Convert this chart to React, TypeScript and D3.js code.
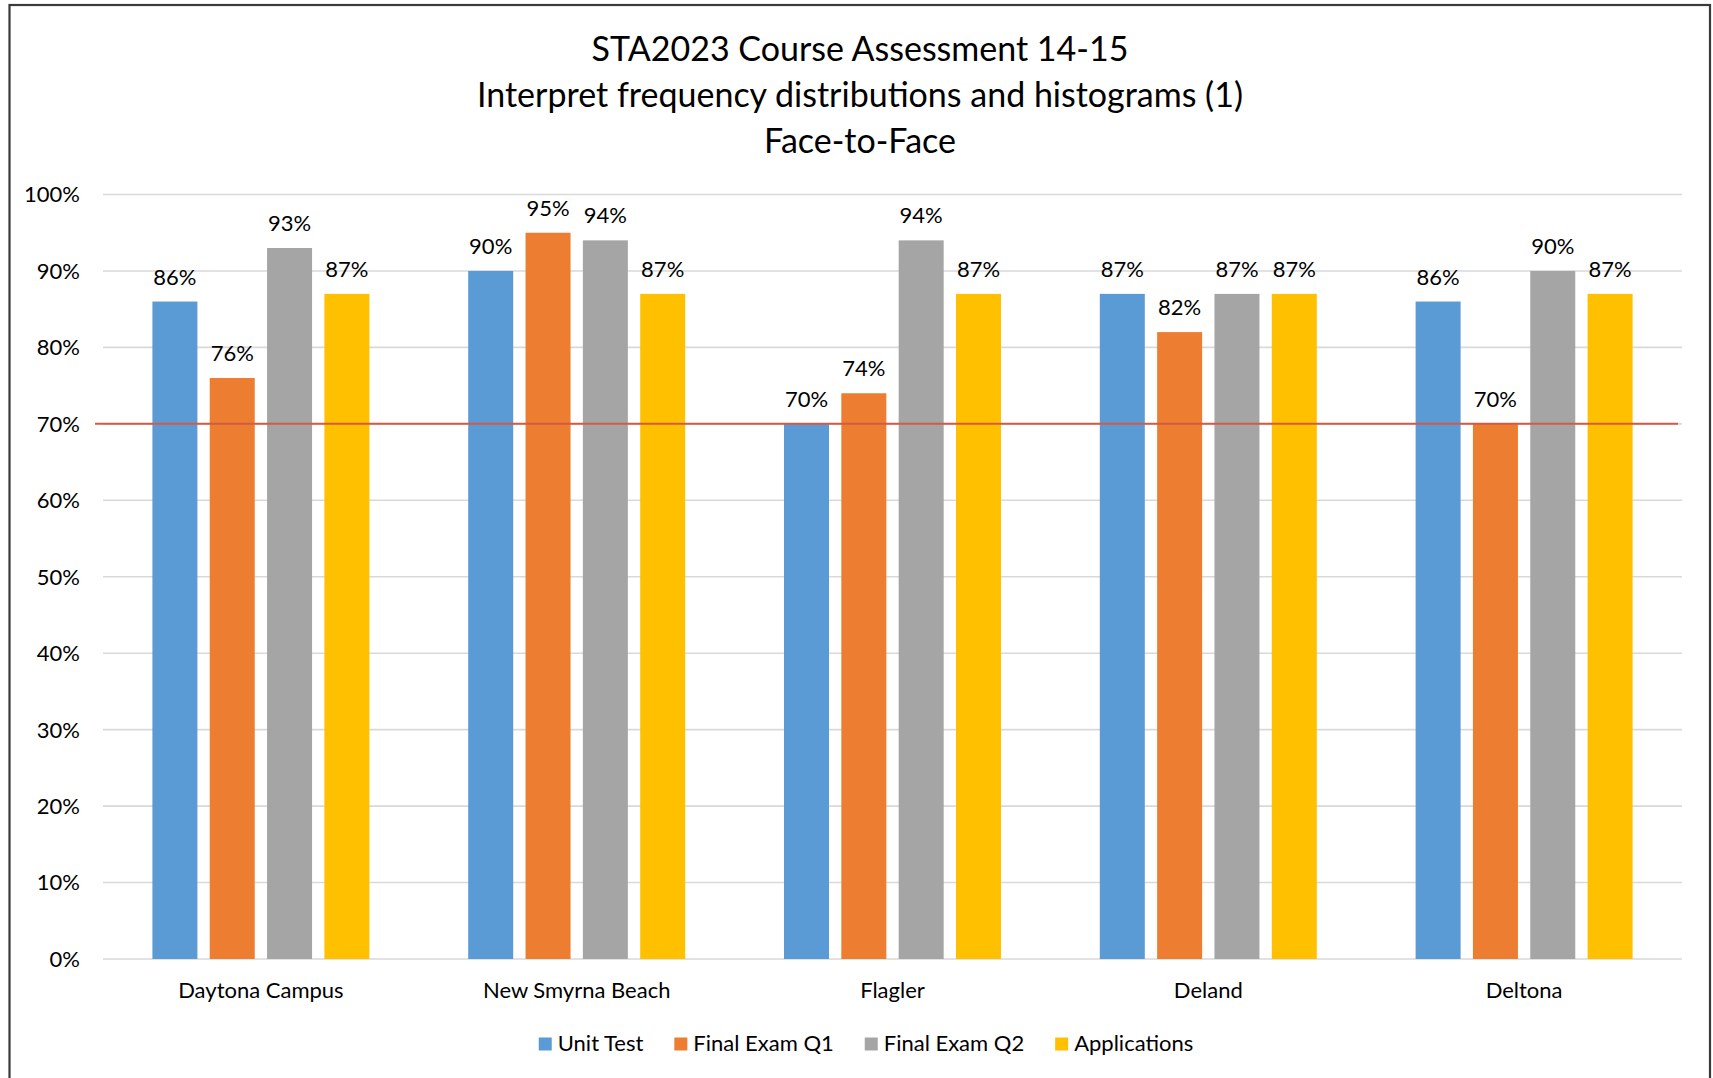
import React, { useEffect, useRef } from "react";
import * as d3 from "d3";

const categories = ["Daytona Campus", "New Smyrna Beach", "Flagler", "Deland", "Deltona"];
const seriesNames = ["Unit Test", "Final Exam Q1", "Final Exam Q2", "Applications"];
const unitTest = [86, 90, 70, 87, 86];
const finalExamQ1 = [76, 95, 74, 82, 70];
const finalExamQ2 = [93, 94, 94, 87, 90];
const applications = [87, 87, 87, 87, 87];
const yTicks = [0, 10, 20, 30, 40, 50, 60, 70, 80, 90, 100];
const targetLine = 70;
const titleLines = [
  "STA2023 Course Assessment 14-15",
  "Interpret frequency distributions and histograms (1)",
  "Face-to-Face",
];
const colors = ["#5B9BD5", "#ED7D31", "#A5A5A5", "#FFC000"];

const W = 1713;
const H = 1078;
const FONT = "Lato, 'Liberation Sans', sans-serif";

export default function App() {
  const ref = useRef<SVGSVGElement>(null);

  useEffect(() => {
    const svg = d3.select(ref.current);
    svg.selectAll("*").remove();

    const series = [unitTest, finalExamQ1, finalExamQ2, applications];
    const left = 103, right = 1682, top = 194.5, bottom = 959;

    // border
    svg.append("rect")
      .attr("x", 9.5).attr("y", 5).attr("width", 1700.5).attr("height", 1090)
      .attr("fill", "white").attr("stroke", "#3a3a3a").attr("stroke-width", 2.2);

    const x0 = d3.scaleBand<string>().domain(categories).range([left, right]).padding(0);
    const groupPad = 49.4;
    const x1 = d3.scaleBand<string>().domain(seriesNames)
      .range([groupPad, x0.bandwidth() - groupPad]).paddingInner(0.215).paddingOuter(0);
    const y = d3.scaleLinear().domain([0, 100]).range([bottom, top]);

    // gridlines
    svg.append("g").selectAll("line").data(yTicks).join("line")
      .attr("x1", left).attr("x2", right)
      .attr("y1", (d) => y(d)).attr("y2", (d) => y(d))
      .attr("stroke", "#D9D9D9").attr("stroke-width", 1.6);

    // y labels
    svg.append("g").selectAll("text").data(yTicks).join("text")
      .attr("x", 80).attr("y", (d) => y(d))
      .attr("dy", "0.36em")
      .attr("text-anchor", "end")
      .attr("font-family", FONT).attr("font-size", 22).attr("fill", "#000")
      .text((d) => `${d}%`);

    // bars
    const g = svg.append("g");
    series.forEach((vals, si) => {
      g.append("g").selectAll("rect").data(vals).join("rect")
        .attr("x", (d, i) => (x0(categories[i]) as number) + (x1(seriesNames[si]) as number))
        .attr("y", (d) => y(d))
        .attr("width", x1.bandwidth())
        .attr("height", (d) => y(0) - y(d))
        .attr("fill", colors[si]);
    });

    // target line
    svg.append("line")
      .attr("x1", 95).attr("x2", 1678)
      .attr("y1", y(targetLine)).attr("y2", y(targetLine))
      .attr("stroke", "#D35B45").attr("stroke-width", 2);

    // data labels
    series.forEach((vals, si) => {
      svg.append("g").selectAll("text").data(vals).join("text")
        .attr("x", (d, i) => (x0(categories[i]) as number) + (x1(seriesNames[si]) as number) + x1.bandwidth() / 2)
        .attr("y", (d) => y(d) - 17)
        .attr("text-anchor", "middle")
        .attr("font-family", FONT).attr("font-size", 22).attr("fill", "#000")
        .text((d) => `${d}%`);
    });

    // x labels
    svg.append("g").selectAll("text").data(categories).join("text")
      .attr("x", (d) => (x0(d) as number) + x0.bandwidth() / 2)
      .attr("y", bottom + 38.5)
      .attr("text-anchor", "middle")
      .attr("font-family", FONT).attr("font-size", 22).attr("fill", "#000")
      .text((d) => d);

    // title
    svg.append("g").selectAll("text").data(titleLines).join("text")
      .attr("x", 860).attr("y", (d, i) => 61 + i * 46)
      .attr("text-anchor", "middle")
      .attr("font-family", FONT).attr("font-size", 34).attr("fill", "#000")
      .text((d) => d);

    // legend
    const leg = svg.append("g");
    const items = leg.selectAll("g").data(seriesNames).join("g");
    items.append("rect").attr("width", 13).attr("height", 13).attr("y", 1037.5)
      .attr("fill", (d, i) => colors[i]);
    items.append("text").attr("x", 19).attr("y", 1051)
      .attr("font-family", FONT).attr("font-size", 22).attr("fill", "#000")
      .text((d) => d);
    let cursor = 0;
    const offsets: number[] = [];
    items.each(function () {
      const t = d3.select(this).select("text").node() as SVGTextElement;
      offsets.push(cursor);
      cursor += 19 + t.getComputedTextLength() + 31;
    });
    const total = cursor - 31;
    const start = 866 - total / 2;
    items.attr("transform", (d, i) => `translate(${start + offsets[i]},0)`);
  }, []);

  return (
    <svg
      ref={ref}
      width={W}
      height={H}
      style={{ position: "absolute", left: 0, top: 0, display: "block", background: "white" }}
    />
  );
}
